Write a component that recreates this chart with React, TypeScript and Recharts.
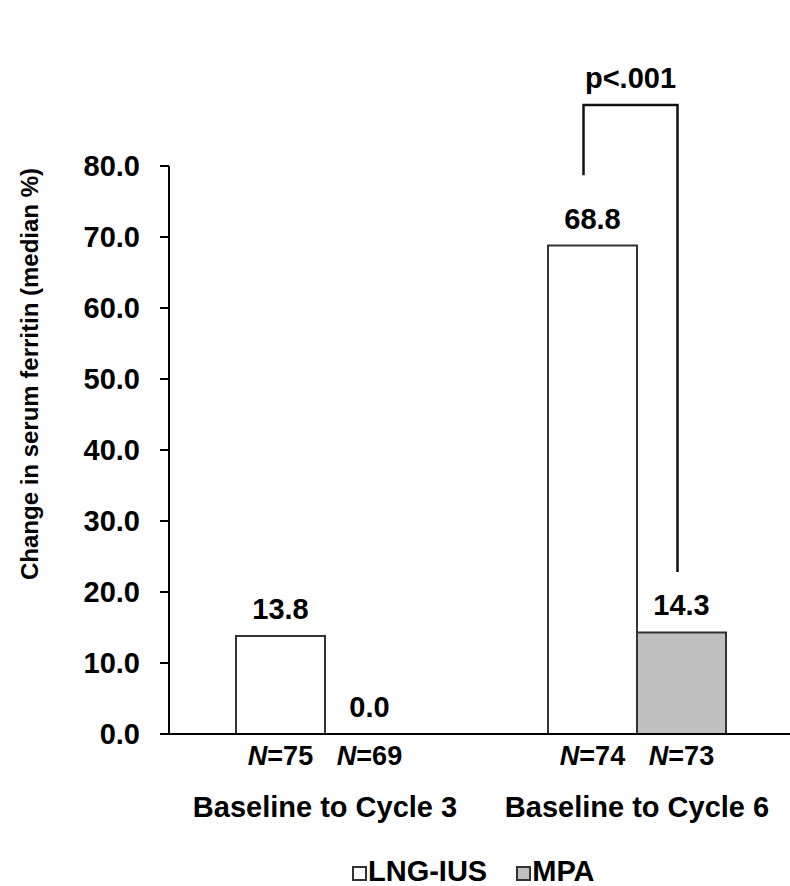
import React from 'react';
import { BarChart, Bar, XAxis, YAxis, Legend, LabelList } from 'recharts';

const categories = ['Baseline to Cycle 3', 'Baseline to Cycle 6'];
const lngValues = [13.8, 68.8];
const mpaValues = [0.0, 14.3];
const lngN = [75, 74];
const mpaN = [69, 73];
const pLabels = ['', 'p<.001'];
const yTicks = [0, 10, 20, 30, 40, 50, 60, 70, 80];
const yTitle = 'Change in serum ferritin (median %)';
// bracket levels, in axis units
const bracketTop = 88.6;
const bracketLeftEnd = 78.7;
const bracketRightEnd = 22.8;

const FONT = '"Liberation Sans", Arial, Helvetica, sans-serif';

const data = categories.map((c, i) => ({
  name: c,
  lng: lngValues[i],
  mpa: mpaValues[i],
}));

const textProps = {
  textAnchor: 'middle' as const,
  fontWeight: 'bold',
  fontFamily: FONT,
  fill: '#000',
};

// The MPA bar can be zero high (and then gets no label of its own), so the
// annotations of both bars hang off the LNG-IUS bar, which sits just left of it.
const GroupLabels = (props: any) => {
  const vb = props.viewBox ?? props;
  const { x, y, width, height } = vb;
  const i = props.index;
  const base = y + height;
  const yOf = (v: number) => base - (v * height) / lngValues[i];
  const lngX = x + width / 2;
  const mpaX = x + width * 1.5;
  const label = pLabels[i];
  const left = lngX - 9;
  const right = mpaX - 4;
  const top = yOf(bracketTop);
  return (
    <g>
      <text {...textProps} x={lngX} y={yOf(lngValues[i]) - 17} fontSize={29}>
        {lngValues[i].toFixed(1)}
      </text>
      <text {...textProps} x={mpaX} y={yOf(mpaValues[i]) - 17} fontSize={29}>
        {mpaValues[i].toFixed(1)}
      </text>
      <text {...textProps} x={lngX} y={base + 31} fontSize={27}>
        <tspan fontStyle="italic">N</tspan>={lngN[i]}
      </text>
      <text {...textProps} x={mpaX} y={base + 31} fontSize={27}>
        <tspan fontStyle="italic">N</tspan>={mpaN[i]}
      </text>
      {label ? (
        <g>
          <path
            d={`M${left},${yOf(bracketLeftEnd)} L${left},${top} L${right},${top} L${right},${yOf(bracketRightEnd)}`}
            fill="none"
            stroke="#111"
            strokeWidth={2.5}
          />
          <text {...textProps} x={(left + right) / 2} y={top - 17} fontSize={29}>
            {label}
          </text>
        </g>
      ) : null}
    </g>
  );
};

const CategoryTick = (props: any) => (
  <text {...textProps} x={props.x} y={props.y + 83} fontSize={29}>
    {props.payload.value}
  </text>
);

const YTitle = (props: any) => {
  const vb = props.viewBox;
  const cx = vb.x + 38;
  const cy = vb.y + vb.height / 2 - 76;
  return (
    <text {...textProps} x={cx} y={cy} transform={`rotate(-90 ${cx} ${cy})`} fontSize={24}>
      {yTitle}
    </text>
  );
};

const square = (fill: string): React.CSSProperties => ({
  display: 'inline-block',
  width: 15,
  height: 15,
  boxSizing: 'border-box',
  border: '2px solid #333',
  background: fill,
  marginRight: 1,
});

const LegendBox = () => (
  <div
    style={{
      height: 36,
      boxSizing: 'border-box',
      paddingTop: 7,
      paddingLeft: 352,
      lineHeight: '29px',
      fontSize: 29,
      fontWeight: 'bold',
      fontFamily: FONT,
      whiteSpace: 'nowrap',
      color: '#000',
    }}
  >
    <span style={square('#fff')} />
    LNG-IUS
    <span style={{ ...square('#c0c0c0'), marginLeft: 29 }} />
    MPA
  </div>
);

export default function App() {
  return (
    <div style={{ width: 790, height: 886, overflow: 'hidden', background: '#fff' }}>
      <style>{`html,body{margin:0;overflow:hidden;background:#fff}`}</style>
      <BarChart
        width={790}
        height={886}
        data={data}
        margin={{ top: 166, right: -3, bottom: 0, left: 0 }}
        barSize={89}
        barGap={0}
      >
        <XAxis
          dataKey="name"
          height={116}
          tickSize={0}
          tickMargin={0}
          tickLine={false}
          axisLine={{ stroke: '#000', strokeWidth: 2 }}
          tick={CategoryTick}
          interval={0}
        />
        <YAxis
          width={169}
          domain={[0, 80]}
          ticks={yTicks}
          interval={0}
          tickSize={9}
          tickMargin={20}
          tickFormatter={(v: number) => v.toFixed(1)}
          tick={{ fill: '#000', fontSize: 29, fontWeight: 'bold', fontFamily: FONT }}
          axisLine={{ stroke: '#000', strokeWidth: 2 }}
          tickLine={{ stroke: '#000', strokeWidth: 2 }}
          label={YTitle}
        />
        <Legend
          verticalAlign="bottom"
          content={LegendBox}
          wrapperStyle={{ left: 0, bottom: 0, width: 790 }}
        />
        <Bar dataKey="lng" name="LNG-IUS" fill="#fff" stroke="#333" strokeWidth={2} isAnimationActive={false}>
          <LabelList dataKey="lng" content={GroupLabels} />
        </Bar>
        <Bar dataKey="mpa" name="MPA" fill="#c0c0c0" stroke="#333" strokeWidth={2} isAnimationActive={false} />
      </BarChart>
    </div>
  );
}
